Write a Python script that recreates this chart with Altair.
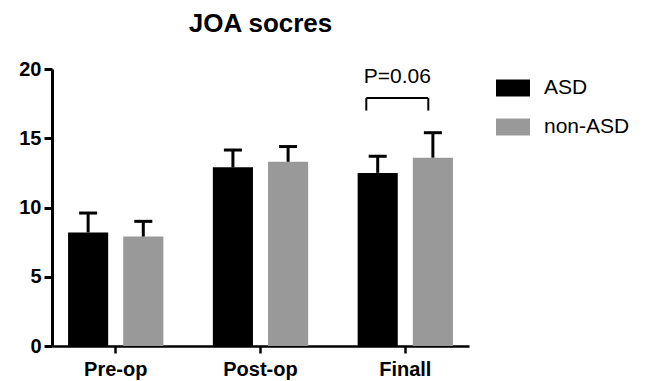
import altair as alt
import pandas as pd

categories = ["Pre-op", "Post-op", "Finall"]
groups = ["ASD", "non-ASD"]
asd_mean = [8.2, 12.9, 12.5]
asd_sd = [1.4, 1.25, 1.2]
non_mean = [7.9, 13.3, 13.6]
non_sd = [1.1, 1.1, 1.8]
y_ticks = [0, 5, 10, 15, 20]
colors = ["#000000", "#999999"]

annot_cat = "Finall"
annot_low = 17.0
annot_high = 17.9
annot_text_y = 19.0
annot_text = "P=0.06"

rows = []
for c, m, s in zip(categories, asd_mean, asd_sd):
    rows.append({"cat": c, "group": "ASD", "mean": m, "upper": m + s})
for c, m, s in zip(categories, non_mean, non_sd):
    rows.append({"cat": c, "group": "non-ASD", "mean": m, "upper": m + s})
df = pd.DataFrame(rows)

ann = pd.DataFrame([{"cat": annot_cat, "low": annot_low, "high": annot_high,
                     "ty": annot_text_y, "label": annot_text}])

FONT = "Liberation Sans"

x = alt.X("cat:N", sort=categories, title=None,
          scale=alt.Scale(paddingInner=0.12, paddingOuter=0),
          axis=alt.Axis(labelAngle=0, labelFontSize=20, labelFontWeight="bold",
                        labelFont=FONT, labelColor="black", labelPadding=6,
                        domainWidth=2.5, domainColor="black", tickColor="black",
                        tickWidth=2.5, tickSize=7, grid=False))
xo = alt.XOffset("group:N", sort=groups,
                 scale=alt.Scale(paddingInner=0.273, paddingOuter=0.291))
y_scale = alt.Scale(domain=[0, 20], nice=False)

bars = alt.Chart(df).mark_bar(opacity=1).encode(
    x=x, xOffset=xo,
    y=alt.Y("mean:Q", scale=y_scale, title=None,
            axis=alt.Axis(values=y_ticks, labelFontSize=20, labelFontWeight="bold",
                          labelFont=FONT, labelColor="black", labelPadding=3,
                          domainWidth=3, domainColor="black", tickColor="black",
                          tickWidth=3, tickSize=8, grid=False)),
    color=alt.Color("group:N", sort=groups,
                    scale=alt.Scale(domain=groups, range=colors),
                    legend=alt.Legend(title=None, orient="none", legendX=444, legendY=2,
                                      symbolType="M-1,-0.5H1V0.5H-1Z", symbolSize=1156,
                                      symbolStrokeWidth=0, labelFontSize=21,
                                      labelFont=FONT, labelColor="black",
                                      labelOffset=14, rowPadding=12, padding=0)),
)

err = alt.Chart(df).mark_rule(color="black", strokeWidth=3).encode(
    x=x, xOffset=xo, y=alt.Y("mean:Q", scale=y_scale), y2="upper:Q")
caps = alt.Chart(df).mark_tick(color="black", size=18, thickness=3, opacity=1).encode(
    x=x, xOffset=xo, y=alt.Y("upper:Q", scale=y_scale))

top = alt.Chart(ann).mark_tick(color="black", size=62, thickness=2, xOffset=-8, opacity=1).encode(
    x=x, y=alt.Y("high:Q", scale=y_scale))
leg1 = alt.Chart(ann).mark_rule(color="black", strokeWidth=2, xOffset=-39).encode(
    x=x, y=alt.Y("low:Q", scale=y_scale), y2="high:Q")
leg2 = alt.Chart(ann).mark_rule(color="black", strokeWidth=2, xOffset=23).encode(
    x=x, y=alt.Y("low:Q", scale=y_scale), y2="high:Q")
ptext = alt.Chart(ann).mark_text(font=FONT, fontSize=21, color="black",
                                 baseline="alphabetic", align="center", dx=-8).encode(
    x=x, y=alt.Y("ty:Q", scale=y_scale), text="label:N")

chart = alt.layer(bars, err, caps, top, leg1, leg2, ptext).properties(
    width=417, height=277,
    title=alt.TitleParams("JOA socres", fontSize=26, fontWeight="bold", font=FONT,
                          color="black", anchor="middle", offset=22),
    autosize=alt.AutoSizeParams(type="none"),
    padding={"left": 44, "top": 61, "right": 169, "bottom": 35},
).configure_view(stroke=None)

chart.save("out.html", embed_options={"renderer": "svg", "actions": False})
